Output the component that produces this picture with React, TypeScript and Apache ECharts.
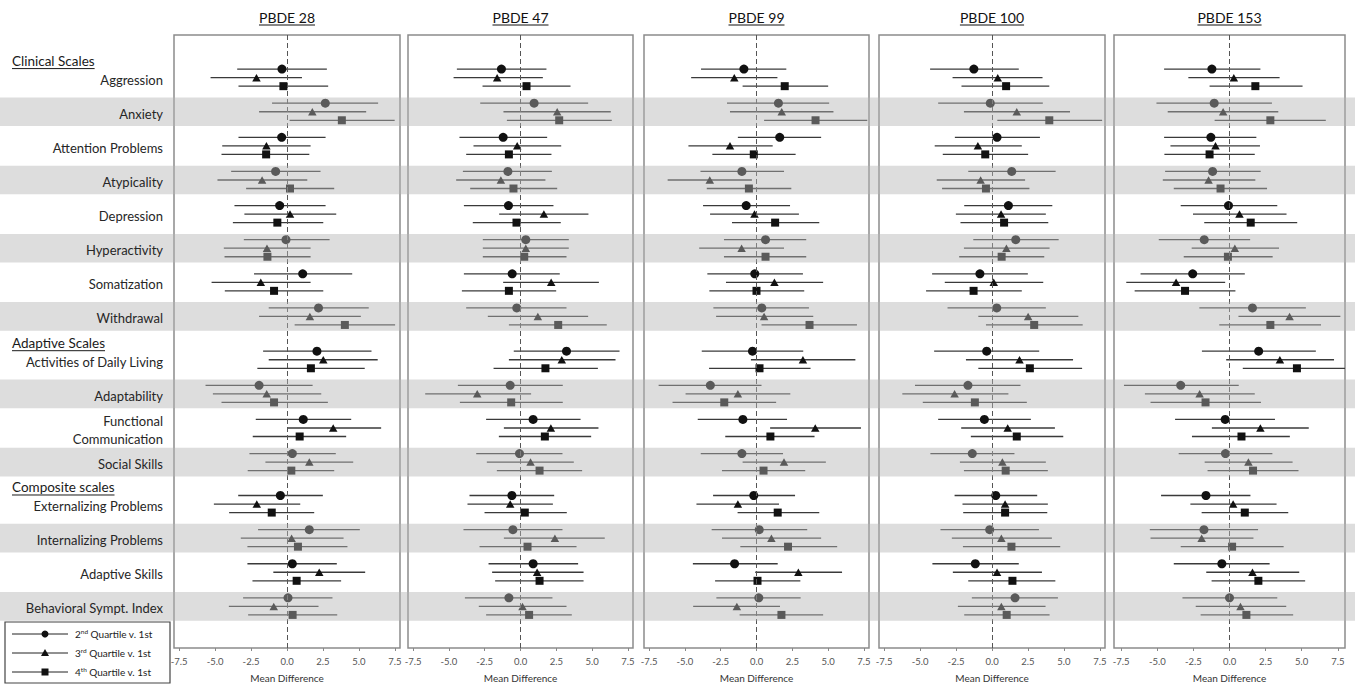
import React, { useEffect, useRef } from "react";
import * as echarts from "echarts";

// ---------- data ----------
const panels = ["PBDE 28", "PBDE 47", "PBDE 99", "PBDE 100", "PBDE 153"];
const quartiles = ["2nd Quartile v. 1st", "3rd Quartile v. 1st", "4th Quartile v. 1st"];
const quartileOrdinals = ["2", "3", "4"];
const quartileSuffix = ["nd", "rd", "th"];
const groupHeaders = ["Clinical Scales", "Adaptive Scales", "Composite scales"];
const clinicalScales = ["Aggression", "Anxiety", "Attention Problems", "Atypicality", "Depression", "Hyperactivity", "Somatization", "Withdrawal"];
const adaptiveScales = ["Activities of Daily Living", "Adaptability", "Functional\nCommunication", "Social Skills"];
const compositeScales = ["Externalizing Problems", "Internalizing Problems", "Adaptive Skills", "Behavioral Sympt. Index"];
const xTicks = [-7.5, -5, -2.5, 0, 2.5, 5, 7.5];

// each row: [mean difference, lower CI, upper CI], rows in scale order
const pbde28Q2 = [[-0.35,-3.46,2.77],[2.66,-1.04,6.33],[-0.37,-3.37,2.68],[-0.79,-3.88,2.33],[-0.51,-3.65,2.68],[-0.07,-3.0,2.96],[1.09,-2.29,4.53],[2.19,-1.27,5.68],[2.08,-1.66,5.87],[-1.94,-5.66,1.78],[1.13,-2.17,4.46],[0.37,-2.61,3.39],[-0.46,-3.39,2.49],[1.55,-2.01,5.06],[0.37,-2.75,3.46],[0.07,-3.05,3.16]];
const pbde28Q3 = [[-2.12,-5.31,1.04],[1.76,-1.94,5.5],[-1.43,-4.5,1.64],[-1.73,-4.83,1.41],[0.21,-2.96,3.42],[-1.39,-4.39,1.64],[-1.82,-5.24,1.64],[1.59,-1.94,5.13],[2.52,-1.27,6.3],[-1.41,-5.15,2.38],[3.21,0.0,6.54],[1.55,-1.5,4.6],[-2.1,-5.08,0.92],[0.32,-3.21,3.93],[2.24,-0.95,5.43],[-0.92,-4.04,2.19]];
const pbde28Q4 = [[-0.25,-3.37,2.86],[3.81,0.18,7.48],[-1.45,-4.55,1.55],[0.21,-2.84,3.28],[-0.67,-3.76,2.52],[-1.36,-4.34,1.64],[-0.9,-4.32,2.52],[4.02,0.53,7.51],[1.66,-2.06,5.4],[-0.9,-4.55,2.84],[0.88,-2.38,4.11],[0.3,-2.73,3.28],[-1.06,-4.02,1.89],[0.76,-2.75,4.2],[0.67,-2.4,3.76],[0.39,-2.7,3.49]];

const pbde47Q2 = [[-1.33,-4.44,1.81],[0.95,-2.81,4.72],[-1.21,-4.26,1.86],[-0.88,-4.02,2.19],[-0.84,-3.95,2.3],[0.37,-2.63,3.37],[-0.58,-3.95,2.74],[-0.26,-3.79,3.21],[3.21,-0.47,6.91],[-0.72,-4.37,2.95],[0.88,-2.4,4.19],[-0.07,-3.09,2.93],[-0.6,-3.56,2.35],[-0.53,-3.98,2.93],[0.88,-2.23,4.02],[-0.81,-3.88,2.23]];
const pbde47Q3 = [[-1.63,-4.67,1.56],[2.56,-1.19,6.3],[-0.23,-3.28,2.84],[-1.37,-4.49,1.74],[1.63,-1.49,4.74],[0.37,-2.63,3.37],[2.14,-1.21,5.47],[1.21,-2.28,4.72],[2.88,-0.81,6.63],[-3.02,-6.65,0.74],[2.12,-1.16,5.44],[0.7,-2.35,3.72],[-0.72,-3.7,2.26],[2.4,-1.16,5.88],[1.16,-1.98,4.4],[0.14,-2.91,3.21]];
const pbde47Q4 = [[0.42,-2.65,3.49],[2.7,-0.95,6.37],[-0.81,-3.79,2.16],[-0.49,-3.51,2.56],[-0.28,-3.33,2.81],[0.26,-2.63,3.21],[-0.81,-4.09,2.49],[2.63,-0.81,6.02],[1.74,-1.88,5.4],[-0.65,-4.23,2.95],[1.7,-1.51,4.93],[1.33,-1.65,4.3],[0.3,-2.51,3.23],[0.49,-2.86,3.91],[1.33,-1.77,4.4],[0.6,-2.4,3.58]];

const pbde99Q2 = [[-0.88,-3.87,2.08],[1.53,-2.06,5.07],[1.62,-1.3,4.51],[-1.02,-3.91,1.92],[-0.72,-3.73,2.34],[0.63,-2.27,3.47],[-0.12,-3.43,3.24],[0.37,-3.01,3.66],[-0.28,-3.82,3.26],[-3.22,-6.83,0.35],[-0.95,-4.1,2.13],[-1.02,-3.89,1.85],[-0.19,-3.03,2.69],[0.19,-3.13,3.54],[-1.53,-4.44,1.48],[0.16,-2.8,3.08]];
const pbde99Q3 = [[-1.55,-4.56,1.46],[1.76,-1.85,5.37],[-1.85,-4.75,1.13],[-3.26,-6.2,-0.32],[-0.14,-3.24,2.96],[-1.04,-4.0,1.92],[1.25,-2.13,4.65],[0.53,-2.82,3.96],[3.24,-0.39,6.9],[-1.3,-4.95,2.36],[4.1,0.95,7.29],[1.92,-0.97,4.84],[-1.3,-4.19,1.57],[1.04,-2.41,4.51],[2.92,-0.09,5.97],[-1.37,-4.42,1.64]];
const pbde99Q4 = [[1.97,-0.97,5.0],[4.12,0.53,7.73],[-0.19,-3.08,2.73],[-0.53,-3.47,2.43],[1.3,-1.71,4.38],[0.63,-2.27,3.47],[0.0,-3.29,3.33],[3.7,0.35,7.01],[0.21,-3.31,3.77],[-2.25,-5.86,1.37],[0.97,-2.18,4.05],[0.49,-2.41,3.4],[1.48,-1.32,4.38],[2.2,-1.13,5.63],[0.07,-2.89,3.06],[1.74,-1.18,4.65]];

const pbde100Q2 = [[-1.26,-4.3,1.86],[-0.12,-3.74,3.53],[0.35,-2.58,3.33],[1.37,-1.65,4.42],[1.14,-1.93,4.19],[1.65,-1.3,4.63],[-0.84,-4.16,2.49],[0.33,-3.09,3.74],[-0.37,-4.02,3.28],[-1.67,-5.35,1.98],[-0.53,-3.74,2.7],[-1.37,-4.28,1.56],[0.26,-2.6,3.14],[-0.16,-3.58,3.26],[-1.16,-4.14,1.86],[1.6,-1.4,4.58]];
const pbde100Q3 = [[0.4,-2.74,3.51],[1.72,-1.95,5.42],[-0.98,-3.98,2.07],[-0.79,-3.84,2.3],[0.63,-2.51,3.74],[1.0,-1.95,4.0],[0.12,-3.28,3.56],[2.51,-0.95,6.0],[1.91,-1.81,5.63],[-2.6,-6.23,1.14],[1.09,-2.14,4.37],[0.72,-2.23,3.74],[0.91,-2.05,3.88],[0.65,-2.79,4.16],[0.35,-2.72,3.47],[0.65,-2.37,3.72]];
const pbde100Q4 = [[0.98,-2.12,3.98],[3.98,0.37,7.65],[-0.47,-3.42,2.51],[-0.42,-3.47,2.6],[0.84,-2.19,3.91],[0.67,-2.28,3.63],[-1.28,-4.58,2.07],[2.93,-0.42,6.3],[2.63,-0.95,6.26],[-1.19,-4.81,2.42],[1.72,-1.47,4.95],[0.95,-1.95,3.88],[0.91,-2.0,3.84],[1.35,-2.02,4.74],[1.42,-1.65,4.4],[1.02,-1.93,4.0]];

const pbde153Q2 = [[-1.22,-4.53,2.14],[-1.06,-5.06,2.94],[-1.29,-4.53,1.86],[-1.17,-4.46,2.16],[-0.07,-3.38,3.31],[-1.75,-4.9,1.43],[-2.55,-6.16,1.06],[1.59,-2.09,5.29],[2.02,-1.91,5.98],[-3.38,-7.31,0.64],[-0.3,-3.77,3.15],[-0.28,-3.52,2.97],[-1.63,-4.74,1.45],[-1.77,-5.52,1.98],[-0.53,-3.86,2.78],[0.0,-3.26,3.31]];
const pbde153Q3 = [[0.3,-2.85,3.47],[-0.44,-4.28,3.38],[-0.97,-4.09,2.11],[-1.45,-4.62,1.79],[0.69,-2.53,3.95],[0.37,-2.62,3.43],[-3.7,-7.15,-0.3],[4.16,0.62,7.68],[3.49,-0.23,7.24],[-2.07,-5.86,1.75],[2.14,-1.22,5.49],[1.31,-1.72,4.37],[0.25,-2.71,3.26],[-1.93,-5.47,1.66],[1.59,-1.61,4.83],[0.76,-2.34,3.93]];
const pbde153Q4 = [[1.79,-1.38,5.06],[2.83,-1.03,6.67],[-1.38,-4.51,1.75],[-0.62,-3.86,2.6],[1.47,-1.75,4.69],[-0.11,-3.17,2.99],[-3.08,-6.57,0.41],[2.83,-0.71,6.34],[4.67,0.92,8.4],[-1.66,-5.47,2.18],[0.83,-2.6,4.18],[1.63,-1.52,4.78],[1.06,-1.93,4.07],[0.18,-3.38,3.75],[2.0,-1.24,5.24],[1.17,-2.0,4.41]];

const panelData = [
  [pbde28Q2, pbde28Q3, pbde28Q4],
  [pbde47Q2, pbde47Q3, pbde47Q4],
  [pbde99Q2, pbde99Q3, pbde99Q4],
  [pbde100Q2, pbde100Q3, pbde100Q4],
  [pbde153Q2, pbde153Q3, pbde153Q4],
];

// ---------- layout ----------
const W = 1355;
const H = 688;
const FONT = "Lato, 'Open Sans', sans-serif";
const gridTop = 35;
const gridHeight = 613;
const panelLefts = [174, 408, 644, 879, 1114];
const panelWidths = [226, 225, 225, 226, 231];
const panelRange = [7.85, 7.85, 7.85, 7.85, 8.0];
const yMin = -1.25;
const yMax = 16.72;
const groups = [clinicalScales, adaptiveScales, compositeScales];
const groupShift = [0, 0.27, 0.5];
const qOffset = [-0.25, 0, 0.25];
const qSymbol = ["circle", "triangle", "rect"];
const qSize: any[] = [9, [8.5, 7.5], 8];

const rowNames: string[] = [];
const rowPos: number[] = [];
const headerPos: number[] = [];
{
  let idx = 0;
  groups.forEach((g, gi) => {
    headerPos.push(idx + groupShift[gi] - 0.5);
    g.forEach((name) => {
      rowNames.push(name);
      rowPos.push(idx + groupShift[gi]);
      idx++;
    });
  });
}
const bandPos = rowPos.filter((_, i) => i % 2 === 1);

function measure(text: string, font: string) {
  const c = document.createElement("canvas").getContext("2d")!;
  c.font = font;
  return c.measureText(text).width;
}

export default function App() {
  const ref = useRef<HTMLDivElement>(null);
  useEffect(() => {
    document.body.style.margin = "0";
    document.body.style.overflow = "hidden";
    const chart = echarts.init(ref.current!, null, { renderer: "svg", width: W, height: H });

    const grids: any[] = [];
    const xAxes: any[] = [];
    const yAxes: any[] = [];
    const series: any[] = [];

    panels.forEach((p, pi) => {
      grids.push({
        left: panelLefts[pi],
        width: panelWidths[pi],
        top: gridTop,
        height: gridHeight,
        outerBoundsMode: "none",
        containLabel: false,
        show: true,
        borderColor: "#8c8c8c",
        borderWidth: 1.5,
        backgroundColor: "transparent",
      });
      xAxes.push({
        type: "value",
        gridIndex: pi,
        position: "bottom",
        min: -panelRange[pi],
        max: panelRange[pi],
        axisLine: { show: false, onZero: false },
        axisTick: { show: true, customValues: xTicks, length: 3, lineStyle: { color: "#888" } },
        axisLabel: {
          customValues: xTicks,
          formatter: (v: number) => v.toFixed(1),
          fontSize: 9.5,
          color: "#555",
          margin: 8,
          fontFamily: FONT,
        },
        splitLine: { show: false },
        name: "Mean Difference",
        nameLocation: "middle",
        nameGap: 25,
        nameTextStyle: { fontSize: 10, color: "#333", fontFamily: FONT },
      });
      yAxes.push({ type: "value", gridIndex: pi, min: yMin, max: yMax, inverse: true, show: false });

      panelData[pi].forEach((rows, qi) => {
        series.push({
          type: "custom",
          xAxisIndex: pi,
          yAxisIndex: pi,
          z: 2,
          silent: true,
          clip: true,
          encode: { x: [0, 1], y: 2 },
          data: rows.map((r, i) => [r[1], r[2], rowPos[i] + qOffset[qi]]),
          renderItem: (params: any, api: any) => {
            const cs = params.coordSys;
            const a = api.coord([api.value(0), api.value(2)]);
            const b = api.coord([api.value(1), api.value(2)]);
            const cl = (x: number) => Math.max(cs.x, Math.min(cs.x + cs.width, x));
            return {
              type: "line",
              shape: { x1: cl(a[0]), y1: a[1], x2: cl(b[0]), y2: b[1] },
              style: { stroke: "#3a3a3a", lineWidth: 1.3 },
            };
          },
        });
        const sc: any = {
          type: "scatter",
          name: quartiles[qi],
          xAxisIndex: pi,
          yAxisIndex: pi,
          z: 3,
          silent: true,
          symbol: qSymbol[qi],
          symbolSize: qSize[qi],
          itemStyle: { color: "#111", opacity: 1 },
          data: rows.map((r, i) => [r[0], rowPos[i] + qOffset[qi]]),
        };
        if (qi === 0) {
          sc.markLine = {
            silent: true,
            symbol: "none",
            label: { show: false },
            lineStyle: { type: [5, 3], color: "#555", width: 1 },
            data: [{ xAxis: 0 }],
          };
        }
        series.push(sc);
      });
    });

    // full-width overlay grid for bands and labels
    const gi = panels.length;
    grids.push({ left: 0, right: 0, top: gridTop, height: gridHeight, show: false, outerBoundsMode: "none", containLabel: false });
    xAxes.push({ type: "value", gridIndex: gi, min: 0, max: W, show: false });
    yAxes.push({ type: "value", gridIndex: gi, min: yMin, max: yMax, inverse: true, show: false });

    series.push({
      type: "custom",
      xAxisIndex: gi,
      yAxisIndex: gi,
      z: 10,
      silent: true,
      data: bandPos.map((y) => [y]),
      renderItem: (params: any, api: any) => {
        const t = api.coord([0, api.value(0) - 0.42]);
        const b = api.coord([W, api.value(0) + 0.42]);
        return {
          type: "rect",
          shape: { x: t[0], y: t[1], width: b[0] - t[0], height: b[1] - t[1] },
          style: { fill: "rgba(179,179,179,0.45)" },
        };
      },
    });

    series.push({
      type: "custom",
      xAxisIndex: gi,
      yAxisIndex: gi,
      z: 20,
      silent: true,
      data: rowPos.map((y) => [163, y + 0.06]),
      renderItem: (params: any, api: any) => {
        const p = api.coord([api.value(0), api.value(1)]);
        return {
          type: "text",
          x: p[0],
          y: p[1],
          style: {
            text: rowNames[params.dataIndex],
            align: "right",
            verticalAlign: "middle",
            fontSize: 13,
            lineHeight: 18,
            fontFamily: FONT,
            fill: "#262626",
          },
        };
      },
    });

    const headerFont = `13.5px ${FONT}`;
    series.push({
      type: "custom",
      xAxisIndex: gi,
      yAxisIndex: gi,
      z: 20,
      silent: true,
      data: headerPos.map((y) => [12, y]),
      renderItem: (params: any, api: any) => {
        const p = api.coord([api.value(0), api.value(1)]);
        const txt = groupHeaders[params.dataIndex];
        const w = measure(txt, headerFont);
        return {
          type: "group",
          children: [
            {
              type: "text",
              x: p[0],
              y: p[1],
              style: { text: txt, align: "left", verticalAlign: "middle", fontSize: 13.5, fontFamily: FONT, fill: "#1a1a1a" },
            },
            {
              type: "line",
              shape: { x1: p[0], y1: p[1] + 8, x2: p[0] + w, y2: p[1] + 8 },
              style: { stroke: "#1a1a1a", lineWidth: 1 },
            },
          ],
        };
      },
    });

    // graphic: panel titles and legend
    const graphics: any[] = [];
    const titleFont = `14px ${FONT}`;
    panels.forEach((p, pi) => {
      const cx = panelLefts[pi] + panelWidths[pi] / 2;
      const w = measure(p, titleFont);
      graphics.push({
        type: "text",
        x: cx,
        y: 17,
        z: 100,
        style: { text: p, align: "center", verticalAlign: "middle", fontSize: 14, fontFamily: FONT, fill: "#111" },
      });
      graphics.push({
        type: "line",
        z: 100,
        shape: { x1: cx - w / 2, y1: 25, x2: cx + w / 2, y2: 25 },
        style: { stroke: "#111", lineWidth: 1 },
      });
    });

    const lg: any[] = [
      { type: "rect", shape: { x: 0, y: 0, width: 165, height: 61 }, style: { fill: "#fff", stroke: "#444", lineWidth: 1.2 } },
    ];
    quartiles.forEach((q, qi) => {
      const y = 12 + qi * 19;
      lg.push({ type: "line", shape: { x1: 7, y1: y, x2: 63, y2: y }, style: { stroke: "#222", lineWidth: 1 } });
      if (qi === 0) lg.push({ type: "circle", shape: { cx: 40, cy: y, r: 3.5 }, style: { fill: "#111" } });
      if (qi === 1) lg.push({ type: "polygon", shape: { points: [[40, y - 4], [36, y + 3], [44, y + 3]] }, style: { fill: "#111" } });
      if (qi === 2) lg.push({ type: "rect", shape: { x: 36.5, y: y - 3.5, width: 7, height: 7 }, style: { fill: "#111" } });
      lg.push({
        type: "text",
        x: 70,
        y: y,
        style: {
          text: `{n|${quartileOrdinals[qi]}}{s|${quartileSuffix[qi]}}{n|${q.slice(3)}}`,
          verticalAlign: "middle",
          rich: {
            n: { fontSize: 10, fontFamily: FONT, fill: "#222", lineHeight: 12 },
            s: { fontSize: 6.5, fontFamily: FONT, fill: "#222", verticalAlign: "top", lineHeight: 12 },
          },
        },
      });
    });
    graphics.push({ type: "group", x: 5, y: 622, z: 100, children: lg });

    chart.setOption({
      animation: false,
      backgroundColor: "#fff",
      grid: grids,
      xAxis: xAxes,
      yAxis: yAxes,
      series,
      graphic: graphics,
      tooltip: { show: false },
    });
    return () => chart.dispose();
  }, []);
  return <div ref={ref} style={{ position: "relative", width: W, height: H }} />;
}
